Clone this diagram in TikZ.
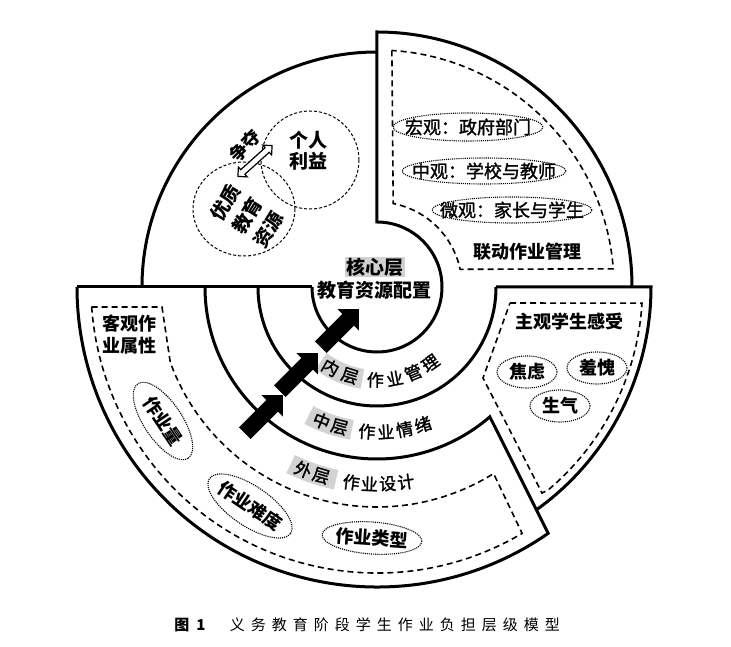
\documentclass[tikz,border=0pt]{standalone}
\usepackage{fontspec}
\setmainfont{Noto Sans CJK SC}
\newfontfamily\heavy{Noto Sans CJK SC}[FakeBold=1.5]
\usetikzlibrary{shapes,arrows,positioning}

\begin{document}
\begin{tikzpicture}[x=1pt, y=1pt,
        ring/.style={line width=3pt},
        boxline/.style={line width=1.6pt, dash pattern=on 6pt off 4pt},
        circline/.style={line width=1pt, dash pattern=on 3pt off 2pt},
        dotline/.style={line width=1.1pt, densely dotted},
        txt/.style={font=\fontsize{18}{25}\selectfont\heavy, inner sep=0pt, align=center},
        head/.style={font=\fontsize{18}{22}\selectfont\bfseries, inner sep=0pt, align=left},
        ringchar/.style={font=\fontsize{17}{17}\selectfont\heavy, inner sep=0pt},
        greybar/.style={gray!35, line width=20pt},
        blockarrow/.style={single arrow, fill=black, inner sep=0pt, text height=8pt, text depth=8pt,
            single arrow head extend=7pt, minimum height=54pt, rotate=45},
        twoway/.style={double arrow, draw, fill=white, line width=1.2pt, inner sep=0pt, text height=2.5pt,
            text depth=2.5pt, double arrow head extend=3.5pt, minimum height=46pt, rotate=42},
    ]
    \newcommand{\ovaltag}[6]{%
        \node[txt, rotate=#3] (#1) at #2 {#6};
        \draw[dotline, shift={(#1.center)}, rotate=#3] (0,0) ellipse [x radius=#4, y radius=#5];}
    \useasboundingbox (-377,-360) rectangle (354,287);

    \draw[ring] (180:65) arc[start angle=180, end angle=450, radius=65] -- (90:255)
        arc[start angle=90, end angle=0, radius=255];
    \draw[ring] (119,0) -- (274,0) arc[start angle=0, end angle=-54.4, radius=274];
    \draw[ring] (90:235) arc[start angle=90, end angle=180, radius=235];
    \draw[ring] (-300,0) -- (-65,0);
    \draw[ring] (180:119) arc[start angle=180, end angle=360, radius=119];
    \draw[ring] (180:172) arc[start angle=180, end angle=311, radius=172] -- (304.8:300)
        arc[start angle=304.8, end angle=180, radius=300];

    \node[head, fill=gray!35, inner sep=1pt, font=\fontsize{19}{19}\selectfont\bfseries] (core) at (-2,20) {核心层};
    \node[head, font=\fontsize{19}{19}\selectfont\bfseries, below=3pt of core] (coretask) {教育资源配置};

    \draw[greybar] (233:93) arc[start angle=233, end angle=261, radius=93];
    \draw[greybar] (242:145) arc[start angle=242, end angle=260, radius=145];
    \draw[greybar] (244:197) arc[start angle=244, end angle=258, radius=197];
    \foreach \c/\a [count=\i] in {内/240, 层/253, 作/269, 业/281, 管/293, 理/305}
        \node[ringchar, rotate=\a+90] (inner\i) at (\a:93) {\c};
    \foreach \c/\a [count=\i] in {中/247.5, 层/255, 作/266, 业/273.5, 情/281, 绪/288.5}
        \node[ringchar, rotate=\a+90] (middle\i) at (\a:145) {\c};
    \foreach \c/\a [count=\i] in {外/248, 层/253.5, 作/262.5, 业/267.8, 设/273.1, 计/278.4}
        \node[ringchar, rotate=\a+90] (outer\i) at (\a:197) {\c};

    \node[blockarrow] (step1) at (-116,-130) {};
    \node[blockarrow] (step2) at (-81,-88) {};
    \node[blockarrow] (step3) at (-40,-44) {};

    \node[ellipse, draw, circline, minimum width=102, minimum height=94, inner sep=0pt] (res) at (-133,78) {};
    \node[circle, draw, circline, minimum size=98, inner sep=0pt] (gain) at (-67,127) {};
    \node[txt, rotate=58, font=\fontsize{19}{25}\selectfont\bfseries] (restext) at (-130,71) {优质\\教育\\资源};
    \node[txt, font=\fontsize{19}{21}\selectfont\bfseries] (gaintext) at (-68,136) {个人\\利益};
    \node[twoway] (fight) at (-122,126) {};
    \node[txt, rotate=45, font=\fontsize{18}{18}\selectfont\bfseries] (fighttext) at (-132,141) {争夺};

    \draw[boxline] (86.4:237) -- (79:85) arc[start angle=79, end angle=12, radius=85] -- (4.4:237)
        arc[start angle=4.4, end angle=86.4, radius=237] -- cycle;
    \ovaltag{macro}{(91,160)}{0}{75}{14}{宏观：政府部门}
    \ovaltag{meso}{(107,116)}{0}{82}{13}{中观：学校与教师}
    \ovaltag{micro}{(135,77)}{0}{80}{13}{微观：家长与学生}
    \node[head] (linked) at (150,35) {联动作业管理};

    \draw[boxline] (184:286) -- (-215,-20) -- (200:220) arc[start angle=200, end angle=302, radius=220]
        -- (300.5:286) arc[start angle=300.5, end angle=184, radius=286] -- cycle;
    \node[head] (objective) at (-247,-48) {客观作\\业属性};
    \tikzstyle{txt} += [font=\fontsize{18}{25}\selectfont\bfseries]
    \ovaltag{amount}{(-214,-134)}{-56}{45}{19}{作业量}
    \ovaltag{level}{(-127,-219)}{-34}{49}{20}{作业难度}
    \ovaltag{kind}{(-5,-251)}{-4}{50}{16}{作业类型}

    \draw[boxline] (133,-16) -- (-3.5:265.5) arc[start angle=-3.5, end angle=-50, radius=265.5]
        -- (165,-206) -- (106,-91) -- cycle;
    \node[head] (subjective) at (192,-35) {主观学生感受};
    \ovaltag{anxiety}{(150,-85)}{0}{30}{16}{焦虑}
    \ovaltag{shame}{(220,-81)}{0}{30}{16}{羞愧}
    \ovaltag{anger}{(183,-119)}{0}{30}{16}{生气}

    \node[font=\fontsize{15}{15}\selectfont\bfseries] (fignum) at (-187,-338) {图\hspace{7pt}1};
    \node[font=\fontsize{15}{15}\selectfont\addfontfeature{LetterSpace=40}] (title) at (18,-338) {义务教育阶段学生作业负担层级模型};
\end{tikzpicture}
\end{document}
